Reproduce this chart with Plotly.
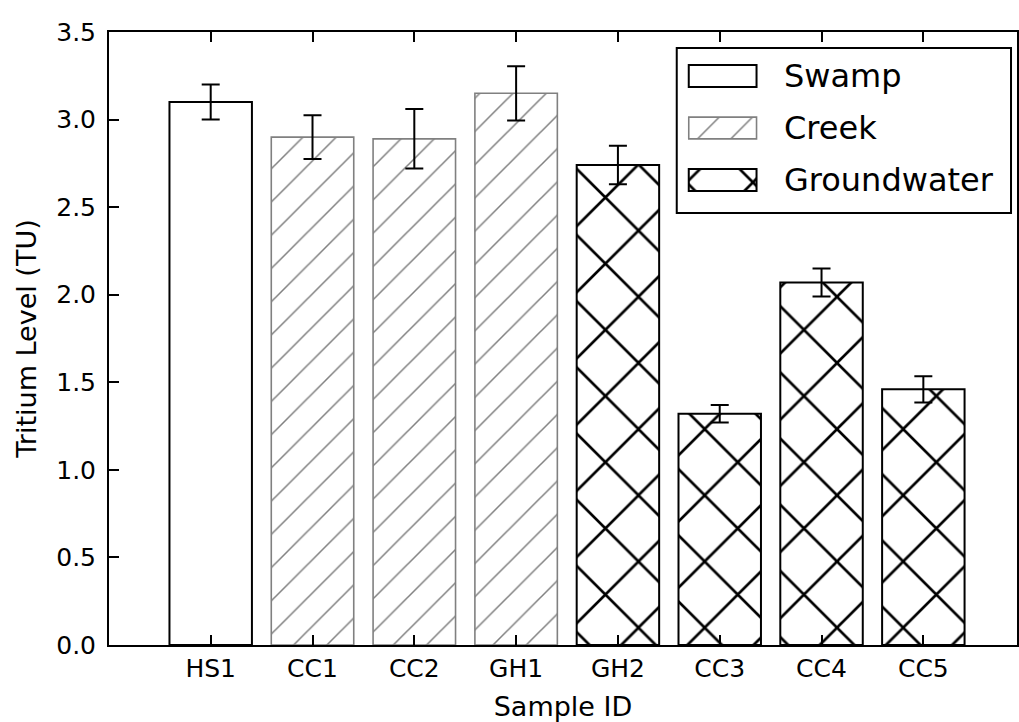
import plotly.graph_objects as go

# Tritium measurements per sample
sample_ids = ["HS1", "CC1", "CC2", "GH1", "GH2", "CC3", "CC4", "CC5"]
tritium_tu = [3.10, 2.90, 2.89, 3.15, 2.74, 1.32, 2.07, 1.46]
tritium_err = [0.10, 0.125, 0.17, 0.155, 0.11, 0.05, 0.08, 0.075]
water_type = ["Swamp", "Creek", "Creek", "Creek",
              "Groundwater", "Groundwater", "Groundwater", "Groundwater"]
type_order = ["Swamp", "Creek", "Groundwater"]
y_tick_vals = [0.0, 0.5, 1.0, 1.5, 2.0, 2.5, 3.0, 3.5]

FONT = "DejaVu Sans"
W, H = 1019, 722
L, R, T, B = 109, 0, 32, 77
PW, PH = W - L - R, H - T - B


def px_x(px):
    return (px - L) / PW


def px_y(py):
    return (H - B - py) / PH


styles = {
    "Swamp": dict(line_color="black", line_width=2,
                  pattern=dict(shape="", bgcolor="white")),
    "Creek": dict(line_color="#808080", line_width=1.6,
                  pattern=dict(shape="/", fgcolor="#808080", bgcolor="white",
                               fgopacity=1, size=23.5, solidity=0.065,
                               fillmode="overlay")),
    "Groundwater": dict(line_color="black", line_width=2,
                        pattern=dict(shape="x", fgcolor="black", bgcolor="white",
                                     fgopacity=1, size=46.8, solidity=0.11,
                                     fillmode="overlay")),
}

fig = go.Figure()

# Main bars, one trace per water type
for wt in type_order:
    idx = [i for i, t in enumerate(water_type) if t == wt]
    st = styles[wt]
    fig.add_trace(go.Bar(
        x=[sample_ids[i] for i in idx],
        y=[tritium_tu[i] for i in idx],
        error_y=dict(type="data", array=[tritium_err[i] for i in idx],
                     color="black", thickness=2, width=9),
        width=0.81,
        marker=dict(color="white", line=dict(color=st["line_color"], width=st["line_width"]),
                    pattern=st["pattern"]),
        showlegend=False, hoverinfo="skip",
    ))

# Legend key patches drawn on a small auxiliary axis pair
for wt in type_order:
    st = styles[wt]
    fig.add_trace(go.Bar(
        y=[wt], x=[1], orientation="h", width=0.42,
        xaxis="x2", yaxis="y2",
        marker=dict(color="white", line=dict(color=st["line_color"], width=st["line_width"]),
                    pattern=st["pattern"]),
        showlegend=False, hoverinfo="skip",
    ))

legend_rows_px = [76, 128, 180]
annotations = [
    dict(text=wt, xref="paper", yref="paper", x=px_x(783), y=px_y(py),
         xanchor="left", yanchor="middle", showarrow=False,
         font=dict(family=FONT, size=32, color="black"))
    for wt, py in zip(type_order, legend_rows_px)
]

fig.update_layout(
    width=W, height=H,
    margin=dict(l=L, r=R, t=T, b=B, pad=0),
    paper_bgcolor="white", plot_bgcolor="rgba(0,0,0,0)",
    barmode="overlay",
    font=dict(family=FONT, size=25, color="black"),
    xaxis=dict(
        type="category", categoryorder="array", categoryarray=sample_ids,
        range=[-0.999, 7.92], showgrid=False, zeroline=False,
        showline=True, linecolor="black", linewidth=2, mirror="ticks",
        ticks="inside", ticklen=10, tickwidth=1.5, tickcolor="black",
        ticklabelstandoff=0,
        title=dict(text="Sample ID", standoff=15, font=dict(size=27)),
    ),
    yaxis=dict(
        range=[0, 3.5], tickvals=y_tick_vals, tickformat=".1f",
        showgrid=False, zeroline=False,
        showline=True, linecolor="black", linewidth=2, mirror=True,
        ticks="inside", ticklen=10, tickwidth=1.5, tickcolor="black",
        ticklabelstandoff=6,
        title=dict(text="Tritium Level (TU)", standoff=12, font=dict(size=27)),
    ),
    xaxis2=dict(domain=[px_x(688), px_x(760)], range=[-0.03, 1.03],
                anchor="y2", visible=False, fixedrange=True),
    yaxis2=dict(domain=[px_y(206), px_y(50)], type="category",
                categoryorder="array", categoryarray=type_order,
                range=[2.5, -0.5], anchor="x2", visible=False, fixedrange=True),
    shapes=[dict(type="rect", xref="paper", yref="paper",
                 x0=px_x(678), x1=px_x(1013), y0=px_y(213), y1=px_y(48),
                 line=dict(color="black", width=2), fillcolor="white", layer="below")],
    annotations=annotations,
)

fig.write_html("out.html")
